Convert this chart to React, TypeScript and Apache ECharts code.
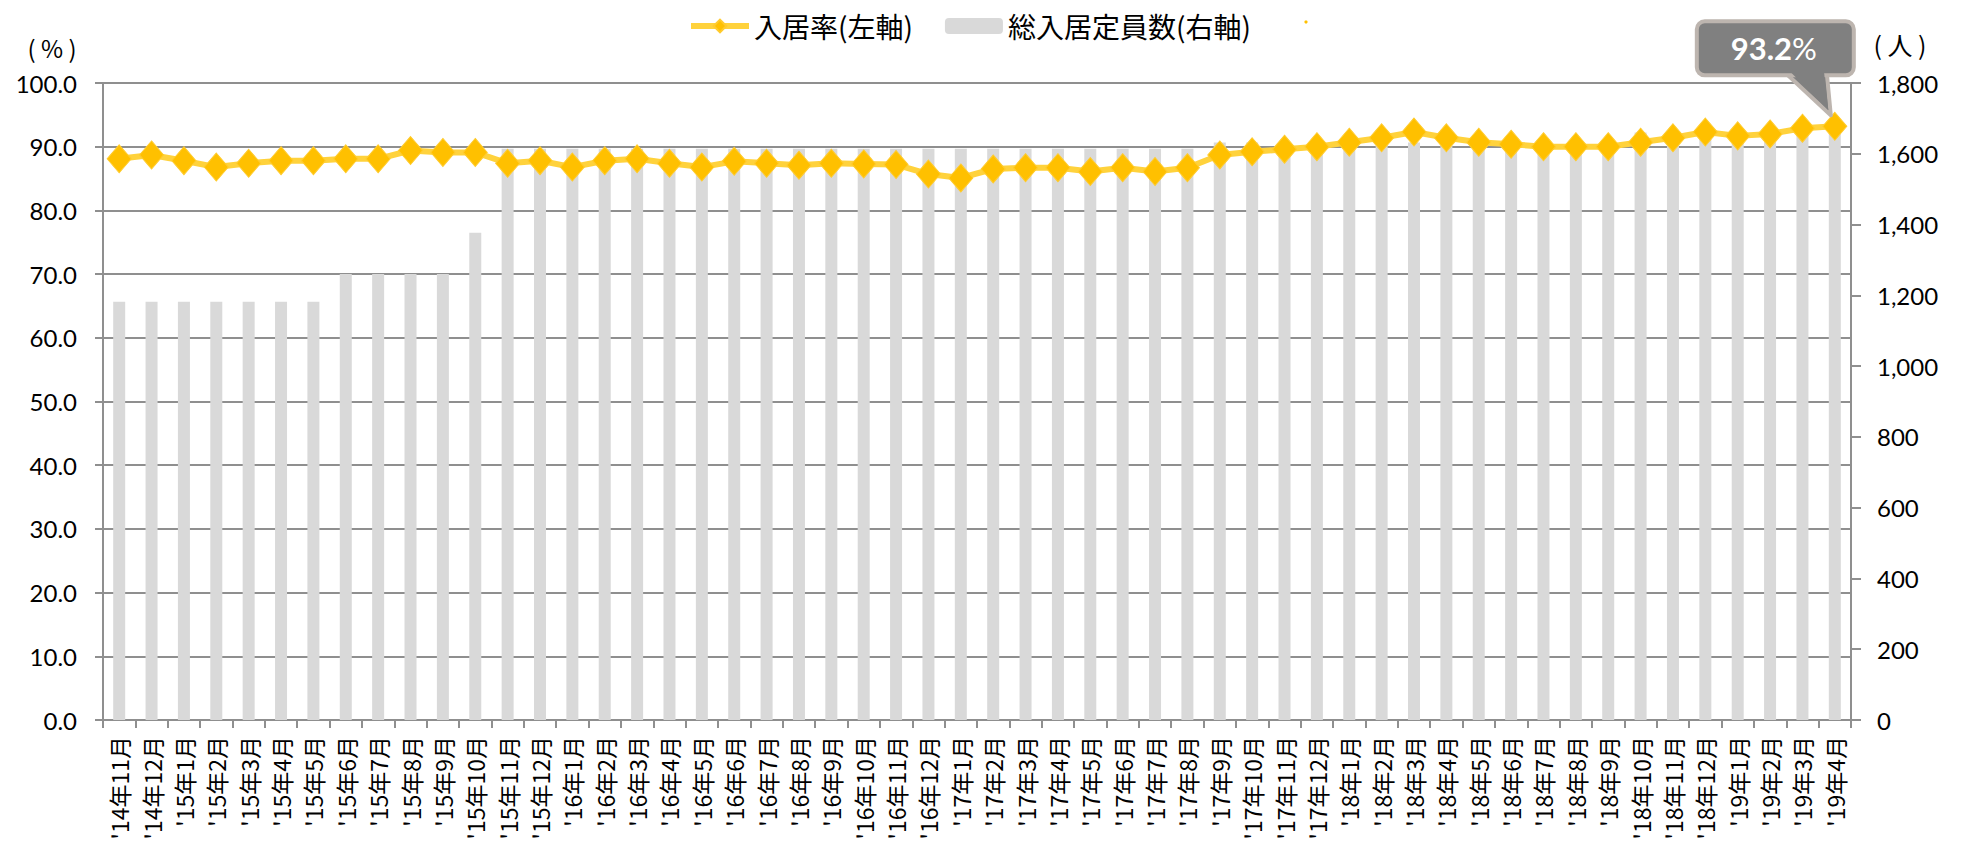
import React, { useEffect, useRef } from 'react';
import * as echarts from 'echarts';

const categories: string[] = [
  "'14年11月", "'14年12月",
  "'15年1月", "'15年2月", "'15年3月", "'15年4月", "'15年5月", "'15年6月",
  "'15年7月", "'15年8月", "'15年9月", "'15年10月", "'15年11月", "'15年12月",
  "'16年1月", "'16年2月", "'16年3月", "'16年4月", "'16年5月", "'16年6月",
  "'16年7月", "'16年8月", "'16年9月", "'16年10月", "'16年11月", "'16年12月",
  "'17年1月", "'17年2月", "'17年3月", "'17年4月", "'17年5月", "'17年6月",
  "'17年7月", "'17年8月", "'17年9月", "'17年10月", "'17年11月", "'17年12月",
  "'18年1月", "'18年2月", "'18年3月", "'18年4月", "'18年5月", "'18年6月",
  "'18年7月", "'18年8月", "'18年9月", "'18年10月", "'18年11月", "'18年12月",
  "'19年1月", "'19年2月", "'19年3月", "'19年4月",
];

// 入居率 (%) – left axis
const occupancyRate: number[] = [
  88.1, 88.7,
  87.8, 86.8, 87.4, 87.8, 87.8, 88.1, 88.1, 89.4, 89.1, 89.1, 87.4, 87.8,
  86.8, 87.8, 88.1, 87.4, 86.8, 87.7, 87.4, 87.1, 87.4, 87.3, 87.2, 85.7,
  85.1, 86.5, 86.7, 86.7, 86.1, 86.7, 86.1, 86.7, 88.7, 89.2, 89.6, 90.0,
  90.7, 91.4, 92.3, 91.4, 90.7, 90.4, 90.0, 90.0, 90.0, 90.7, 91.4, 92.3,
  91.7, 92.0, 92.9, 93.2,
];

// 総入居定員数 (人) – right axis
const capacity: number[] = [
  1182, 1182,
  1182, 1182, 1182, 1182, 1182, 1260, 1260, 1260, 1260, 1377, 1614, 1614,
  1614, 1614, 1614, 1614, 1614, 1614, 1614, 1614, 1614, 1614, 1614, 1614,
  1614, 1614, 1614, 1614, 1614, 1614, 1614, 1614, 1632, 1632, 1632, 1632,
  1632, 1632, 1632, 1632, 1632, 1632, 1632, 1632, 1632, 1660, 1660, 1660,
  1660, 1660, 1660, 1660,
];

const leftTicks = { min: 0, max: 100, interval: 10 };
const rightTicks = { min: 0, max: 1800, interval: 200 };

const rateName = '入居率(左軸)';
const capName = '総入居定員数(右軸)';
const calloutText = '93.2';
const leftUnit = '( % )';
const rightUnit = '( 人 )';

const NUM_FONT = 'Lato, "Noto Sans", sans-serif';
const JP_FONT = '"Noto Sans CJK JP", "Noto Sans", sans-serif';
const GRID_COLOR = '#8f8f8f';

export default function App() {
  const ref = useRef<HTMLDivElement>(null);

  useEffect(() => {
    document.body.style.margin = '0';
    const chart = echarts.init(ref.current!, null, { renderer: 'svg' });

    const option: any = {
      animation: false,
      backgroundColor: '#ffffff',
      grid: { left: 103, right: 113, top: 83, bottom: 136, containLabel: false },
      legend: {
        data: [
          { name: rateName, lineStyle: { width: 6, color: '#FFD23C' } },
          { name: capName },
        ],
        left: 683,
        top: 7,
        itemWidth: 58,
        itemHeight: 16,
        itemGap: 32,
        textStyle: { fontSize: 28, fontFamily: JP_FONT, color: '#000' },
      },
      xAxis: {
        type: 'category',
        data: categories,
        boundaryGap: true,
        axisLine: { lineStyle: { color: GRID_COLOR, width: 2 } },
        axisTick: { show: true, interval: 0, length: 8, lineStyle: { color: GRID_COLOR, width: 2 } },
        axisLabel: {
          interval: 0,
          rotate: 90,
          margin: 16,
          fontSize: 23,
          fontFamily: JP_FONT,
          color: '#000',
        },
      },
      yAxis: [
        {
          type: 'value',
          ...leftTicks,
          position: 'left',
          axisLine: { show: true, lineStyle: { color: GRID_COLOR, width: 2 } },
          axisTick: { show: true, length: 8, lineStyle: { color: GRID_COLOR, width: 2 } },
          splitLine: { show: true, lineStyle: { color: GRID_COLOR, width: 2 } },
          axisLabel: {
            margin: 26,
            fontSize: 24,
            fontFamily: NUM_FONT,
            color: '#000',
            formatter: (v: number) => v.toFixed(1),
          },
        },
        {
          type: 'value',
          ...rightTicks,
          position: 'right',
          axisLine: { show: true, lineStyle: { color: GRID_COLOR, width: 2 } },
          axisTick: { show: true, length: 10, lineStyle: { color: GRID_COLOR, width: 2 } },
          splitLine: { show: false },
          axisLabel: {
            margin: 26,
            fontSize: 24,
            fontFamily: NUM_FONT,
            color: '#000',
            formatter: (v: number) => v.toLocaleString('en-US'),
          },
        },
      ],
      series: [
        {
          name: capName,
          type: 'bar',
          yAxisIndex: 1,
          data: capacity,
          barWidth: 12,
          itemStyle: { color: '#d9d9d9' },
          z: 1,
        },
        {
          name: rateName,
          type: 'line',
          yAxisIndex: 0,
          data: occupancyRate,
          symbol: 'diamond',
          symbolSize: [24, 28],
          lineStyle: { color: '#FFD23C', width: 6 },
          itemStyle: { color: '#FFC000', borderColor: '#FFCB2E', borderWidth: 1 },
          z: 5,
        },
      ],
    };
    chart.setOption(option);

    const last = categories.length - 1;
    const [px, py] = chart.convertToPixel(
      { xAxisIndex: 0, yAxisIndex: 0 },
      [categories[last], occupancyRate[last]]
    ) as number[];

    const boxFill = '#808080';
    const boxStroke = '#bdb5af';

    chart.setOption({
      graphic: [
        {
          type: 'text',
          x: 52,
          y: 47,
          style: { text: leftUnit, fontSize: 24, fontFamily: JP_FONT, fill: '#000', align: 'center', verticalAlign: 'middle' },
        },
        {
          type: 'text',
          x: 1900,
          y: 44,
          style: { text: rightUnit, fontSize: 25, fontFamily: JP_FONT, fill: '#000', align: 'center', verticalAlign: 'middle' },
        },
        {
          type: 'circle',
          shape: { cx: 1306, cy: 22, r: 1.6 },
          style: { fill: '#FFC000' },
        },
        {
          type: 'polygon',
          z: 100,
          shape: { points: [[px - 49, py - 53], [px - 8, py - 53], [px - 4, py - 11]] },
          style: { fill: boxFill, stroke: boxStroke, lineWidth: 4, lineJoin: 'round' },
        },
        {
          type: 'rect',
          z: 101,
          shape: { x: px - 138, y: py - 105, width: 157, height: 54, r: 8 },
          style: { fill: boxFill, stroke: boxStroke, lineWidth: 4 },
        },
        {
          type: 'polygon',
          z: 102,
          shape: { points: [[px - 46, py - 56], [px - 11, py - 56], [px - 6.5, py - 16]] },
          style: { fill: boxFill },
        },
        {
          type: 'text',
          z: 103,
          x: px - 61,
          y: py - 78,
          style: {
            text: '{b|' + calloutText + '}{p|%}',
            align: 'center',
            verticalAlign: 'middle',
            fill: '#ffffff',
            rich: {
              b: { fontSize: 31, fontWeight: 'bold', fontFamily: NUM_FONT, fill: '#ffffff', color: '#ffffff' },
              p: { fontSize: 31, fontWeight: 'normal', fontFamily: NUM_FONT, fill: '#ffffff', color: '#ffffff' },
            },
          },
        },
      ],
    });

    return () => chart.dispose();
  }, []);

  return (
    <div
      ref={ref}
      style={{ position: 'absolute', left: 0, top: 0, width: 1964, height: 856 }}
    />
  );
}
